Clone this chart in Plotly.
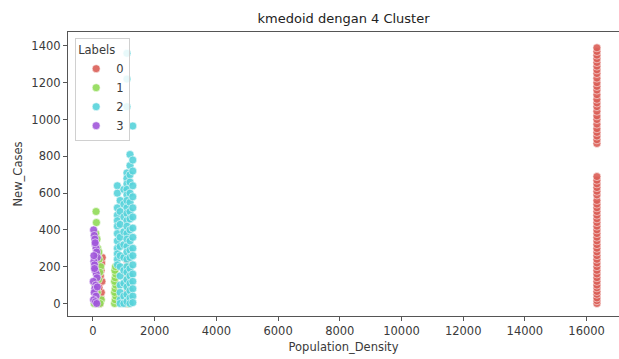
import plotly.graph_objects as go

# ---- data ----
labels = ["0", "1", "2", "3"]
colors = ["#db5f57", "#91db57", "#57d3db", "#a157db"]

# cluster 0 (red)
c0_x = ([16334] * 25 + [16334] * 36 +
        [230, 250, 270, 290, 240, 260, 280, 300, 195] +
        [1100, 1110, 1120, 1105, 1115])
c0_y = ([870, 890, 910, 930, 950, 975, 1000, 1020, 1045, 1070, 1090, 1110, 1135,
         1160, 1180, 1200, 1225, 1250, 1270, 1290, 1310, 1330, 1350, 1370, 1390] +
        [0, 15, 30, 50, 65, 85, 100, 120, 140, 160, 180, 200, 220, 240, 260, 280,
         300, 320, 340, 360, 380, 400, 420, 440, 460, 480, 500, 520, 540, 560,
         590, 610, 630, 650, 670, 690] +
        [0, 30, 60, 120, 150, 180, 220, 250, 87] +
        [0, 60, 130, 160, 230])

# cluster 1 (green)
c1_x = ([100, 110, 90, 130, 150, 170, 200, 250, 220, 180, 60, 140, 270, 230, 40, 190] +
        [700, 720, 740, 700, 720, 740, 700, 720, 740, 710, 730] +
        [1150, 1160, 1140, 1150, 1160, 1150])
c1_y = ([500, 440, 380, 350, 300, 270, 240, 200, 170, 130, 100, 60, 20, 0, 0, 280] +
        [0, 20, 40, 60, 80, 100, 120, 140, 160, 180, 200] +
        [0, 50, 90, 110, 150, 200])

# cluster 2 (cyan)
c2_x = ([790] * 12 + [880] * 12 + [1000] * 10 + [1100] * 24 + [1200] * 18 + [1290] * 17)
c2_y = ([640, 600, 520, 480, 450, 420, 380, 340, 300, 270, 240, 210] +
        [560, 500, 430, 360, 310, 260, 200, 150, 100, 60, 20, 0] +
        [620, 540, 470, 390, 320, 250, 180, 110, 40, 0] +
        [1360, 1220, 1070, 710, 680, 650, 620, 590, 560, 520, 490, 450, 420, 380,
         350, 310, 280, 240, 200, 170, 130, 90, 50, 10] +
        [810, 750, 700, 660, 600, 550, 500, 460, 400, 340, 290, 250, 190, 150, 110,
         70, 30, 0] +
        [965, 780, 720, 640, 580, 520, 470, 410, 360, 300, 260, 210, 160, 120, 80,
         40, 5])

# cluster 3 (purple)
c3_x = [20, 40, 60, 80, 100, 120, 140, 30, 50, 70, 110, 130, 10, 90, 60, 40, 100,
        20, 80, 120, 50, 140, 70, 30]
c3_y = [400, 370, 350, 320, 300, 280, 250, 230, 210, 180, 160, 140, 120, 100, 80,
        60, 40, 20, 10, 0, 190, 90, 330, 260]

xs = [c0_x, c1_x, c2_x, c3_x]
ys = [c0_y, c1_y, c2_y, c3_y]

x_ticks = [0, 2000, 4000, 6000, 8000, 10000, 12000, 14000, 16000]
y_ticks = [0, 200, 400, 600, 800, 1000, 1200, 1400]

FONT = "DejaVu Sans"
TXT = "#3a3a3a"

fig = go.Figure()
for lab, col, x, y in zip(labels, colors, xs, ys):
    fig.add_trace(go.Scatter(
        x=x, y=y, mode="markers", name=lab,
        marker=dict(size=8, color=col, opacity=0.9,
                    line=dict(color="white", width=0.6)),
    ))

axis_common = dict(
    showgrid=False, zeroline=False, showline=True, linecolor="#555555",
    linewidth=1.2, mirror=True, ticks="outside", ticklen=4, tickwidth=1,
    tickcolor="#555555", tickfont=dict(family=FONT, size=11.5, color=TXT),
)

fig.update_layout(
    width=619, height=359,
    margin=dict(l=68, r=0, t=32, b=43),
    paper_bgcolor="white", plot_bgcolor="white",
    title=dict(text="kmedoid dengan 4 Cluster", x=0.555, xanchor="center",
               y=0.95, yanchor="middle",
               font=dict(family=FONT, size=13, color="#222222")),
    xaxis=dict(range=[-810, 17050], tickvals=x_ticks,
               ticktext=[str(v) for v in x_ticks],
               title=dict(text="Population_Density", standoff=6,
                          font=dict(family=FONT, size=11.5, color=TXT)),
               **axis_common),
    yaxis=dict(range=[-68, 1476], tickvals=y_ticks,
               ticktext=[str(v) for v in y_ticks],
               title=dict(text="New_Cases", standoff=6,
                          font=dict(family=FONT, size=11.5, color=TXT)),
               **axis_common),
    legend=dict(x=0.013, y=0.978, xanchor="left", yanchor="top",
                bgcolor="rgba(255,255,255,0.85)", bordercolor="#d0d0d0",
                borderwidth=1, itemwidth=30,
                title=dict(text="Labels", side="top",
                           font=dict(family=FONT, size=11.5, color=TXT)),
                font=dict(family=FONT, size=11.5, color=TXT),
                tracegroupgap=0),
    showlegend=True,
)

fig.write_html("out.html")
